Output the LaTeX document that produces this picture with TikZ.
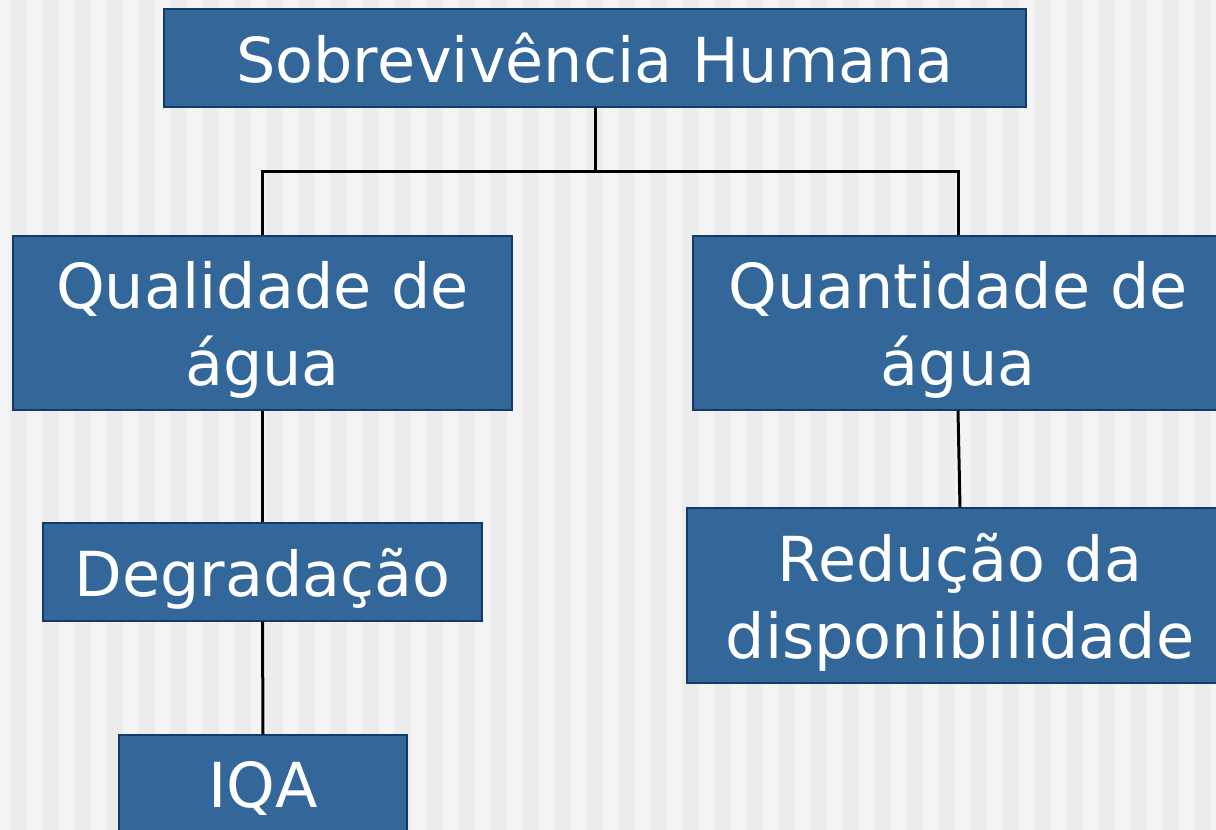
\documentclass[tikz,border=0pt]{standalone}
\usepackage{fontspec}
\setmainfont{DejaVu Sans}
\usepackage{xcolor}
\usetikzlibrary{positioning}
\definecolor{boxblue}{RGB}{52,103,153}
\definecolor{boxline}{RGB}{18,58,108}
\definecolor{stripelight}{RGB}{244,244,244}
\definecolor{stripedark}{RGB}{236,236,236}
\tikzset{
  topic/.style={draw=boxline, line width=1.5pt, fill=boxblue, text=white, align=center,
    inner sep=0, text depth=0pt, font=\fontsize{62}{77}\selectfont},
  link/.style={line width=3pt, black}
}

\begin{document}
\begin{tikzpicture}[x=1pt, y=-1pt]
            % background with stripes
            \useasboundingbox (0,0) rectangle (1216,830);
            \clip (0,0) rectangle (1216,830);
            \fill[stripelight] (0,0) rectangle (1216,830);
            \foreach \i in {0,...,37}
              \fill[stripedark] (10+32*\i,0) rectangle ++(16.5,830);

            % Top level
            \node[topic, minimum width=862pt, minimum height=98pt] (survival) at (595,58) {Sobrevivência Humana};

            % Second level
            \node[topic, minimum width=499pt, minimum height=174pt] (quality) at (262.5,323) {Qualidade de\\ água};
            \node[topic, minimum width=530pt, minimum height=174pt] (quantity) at (958,323) {Quantidade de\\ água};

            % Third level
            \node[topic, minimum width=439pt, minimum height=98pt] (degrade) at (262.5,572) {Degradação};
            \node[topic, minimum width=546pt, minimum height=175pt] (reduction) at (960,595.5) {Redução da\\ disponibilidade};

            % Fourth level
            \node[topic, minimum width=288pt, minimum height=98pt] (iqa) at (263,784) {IQA};

            % Connections
            \coordinate (split) at (595,171);
            \draw[link] (survival.south) -- (split);
            \draw[link] (quality.north) |- (split) -| (quantity.north);
            \draw[link] (quality.south) -- (degrade.north);
            \draw[link] (degrade.south) -- (iqa.north);
            \draw[link] (quantity.south) -- (reduction.north);
        \end{tikzpicture}
\end{document}
